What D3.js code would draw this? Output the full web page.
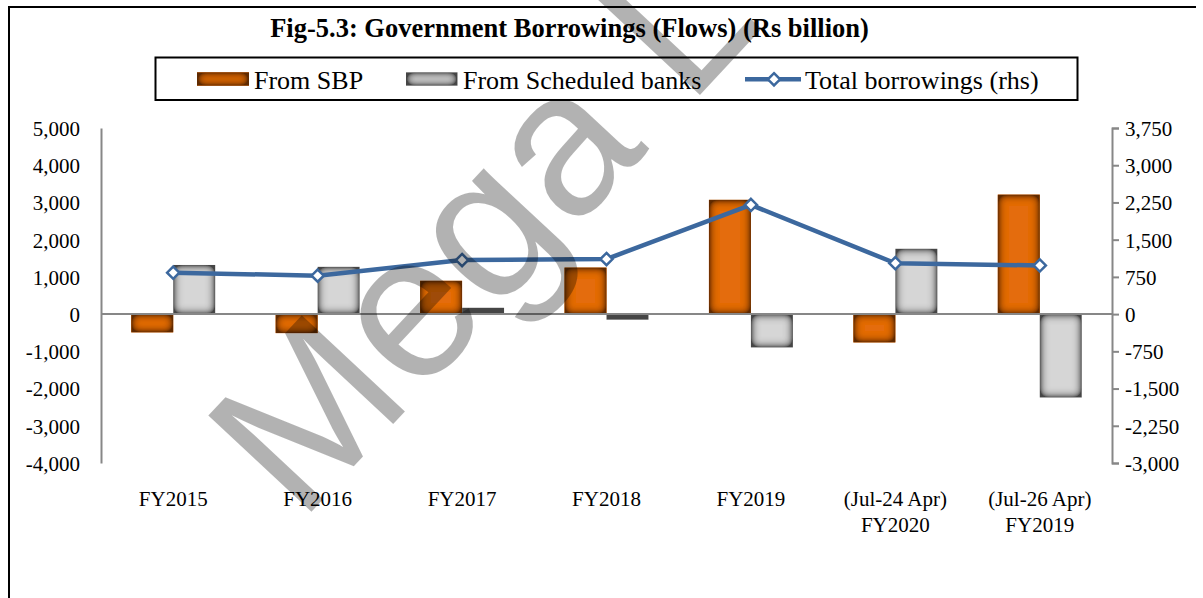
<!DOCTYPE html>
<html>
<head>
<meta charset="utf-8">
<script src="https://cdn.jsdelivr.net/npm/d3@7"></script>
<style>
  html, body { margin: 0; padding: 0; background: #fff; }
  svg { display: block; }
  text { font-family: "Liberation Serif", "Times New Roman", serif; fill: #000; }
</style>
</head>
<body>
<svg id="chart" width="1203" height="598"></svg>
<script>
// ---------- data ----------
const categories = ["FY2015", "FY2016", "FY2017", "FY2018", "FY2019", "(Jul-24 Apr)\nFY2020", "(Jul-26 Apr)\nFY2019"];
const fromSBP = [-490, -510, 895, 1250, 3070, -760, 3210];
const fromScheduled = [1320, 1270, 170, -150, -895, 1755, -2240];
const totalBorrowings = [835, 775, 1090, 1110, 2200, 1025, 980];
const leftTicks = [5000, 4000, 3000, 2000, 1000, 0, -1000, -2000, -3000, -4000];
const rightTicks = [3750, 3000, 2250, 1500, 750, 0, -750, -1500, -2250, -3000];
const seriesNames = ["From SBP", "From Scheduled banks", "Total borrowings (rhs)"];
const titleText = "Fig-5.3: Government Borrowings (Flows) (Rs billion)";
const watermarkText = "Mega Lecture";

// ---------- layout ----------
const svg = d3.select("#chart");
const plot = { left: 101, right: 1112, top: 128, bottom: 463 };
const fmt = d3.formatLocale({ decimal: ".", thousands: ",", grouping: [3], currency: ["", ""], minus: "-" }).format(",");

const x0 = d3.scaleBand().domain(categories).range([plot.left, plot.right]).paddingInner(0).paddingOuter(0);
const x1 = d3.scaleBand().domain(["sbp", "sched"]).range([0, x0.bandwidth()]).paddingInner(0).paddingOuter(0.72);
const yL = d3.scaleLinear().domain([-4000, 5000]).range([plot.bottom, plot.top]);
const yR = d3.scaleLinear().domain([-3000, 3750]).range([plot.bottom, plot.top]);

// ---------- defs: inner-shade filters ----------
const defs = svg.append("defs");
function shadeFilter(id, dark) {
  const f = defs.append("filter").attr("id", id)
    .attr("filterUnits", "userSpaceOnUse").attr("x", 0).attr("y", 0).attr("width", 1203).attr("height", 598);
  f.append("feFlood").attr("flood-color", dark).attr("result", "c");
  const inv = f.append("feComponentTransfer").attr("in", "SourceAlpha").attr("result", "inv");
  inv.append("feFuncA").attr("type", "table").attr("tableValues", "1 0");
  f.append("feGaussianBlur").attr("in", "inv").attr("stdDeviation", 5).attr("result", "blur");
  const amp = f.append("feComponentTransfer").attr("in", "blur").attr("result", "amp");
  amp.append("feFuncA").attr("type", "linear").attr("slope", 2).attr("intercept", 0);
  f.append("feComposite").attr("in", "c").attr("in2", "amp").attr("operator", "in").attr("result", "sh");
  f.append("feComposite").attr("in", "sh").attr("in2", "SourceAlpha").attr("operator", "in").attr("result", "inner");
  const m = f.append("feMerge");
  m.append("feMergeNode").attr("in", "SourceGraphic");
  m.append("feMergeNode").attr("in", "inner");
}
shadeFilter("shadeOrange", "#5e2a04");
shadeFilter("shadeGrey", "#454545");

const colors = { sbp: "#e46c0a", sched: "#d6d6d6", line: "#3c689e" };

// ---------- frame ----------
svg.append("line").attr("x1", 9).attr("x2", 9).attr("y1", 7).attr("y2", 598).attr("stroke", "#000").attr("stroke-width", 2);
svg.append("line").attr("x1", 8).attr("x2", 1196).attr("y1", 7).attr("y2", 7).attr("stroke", "#000").attr("stroke-width", 2);

// ---------- title ----------
svg.append("text").attr("x", 569.5).attr("y", 37).attr("text-anchor", "middle")
  .style("font-weight", "bold").style("font-size", "26.5px").text(titleText);

// ---------- bars ----------
const groups = svg.append("g").selectAll("g").data(categories).join("g")
  .attr("transform", d => `translate(${x0(d)},0)`);
groups.append("rect")
  .attr("x", x1("sbp")).attr("width", x1.bandwidth())
  .attr("y", (d, i) => Math.min(yL(fromSBP[i]), yL(0)))
  .attr("height", (d, i) => Math.abs(yL(fromSBP[i]) - yL(0)))
  .attr("fill", colors.sbp).attr("filter", "url(#shadeOrange)");
groups.append("rect")
  .attr("x", x1("sched")).attr("width", x1.bandwidth())
  .attr("y", (d, i) => Math.min(yL(fromScheduled[i]), yL(0)))
  .attr("height", (d, i) => Math.abs(yL(fromScheduled[i]) - yL(0)))
  .attr("fill", colors.sched).attr("filter", "url(#shadeGrey)");

// ---------- axes ----------
const axisColor = "#878787";
const gL = svg.append("g").attr("transform", `translate(${plot.left},0)`)
  .call(d3.axisLeft(yL).tickValues(leftTicks).tickFormat(fmt).tickSize(0).tickPadding(21));
gL.select(".domain").attr("stroke", axisColor).attr("stroke-width", 2);
gL.selectAll("text").style("font-size", "21px").style("font-family", '"Liberation Serif", serif').attr("dy", "0.35em");

const gR = svg.append("g").attr("transform", `translate(${plot.right},0)`)
  .call(d3.axisRight(yR).tickValues(rightTicks).tickFormat(fmt).tickSizeOuter(7).tickSizeInner(7).tickPadding(6));
gR.select(".domain").attr("stroke", axisColor).attr("stroke-width", 2);
gR.selectAll(".tick line").attr("stroke", axisColor).attr("stroke-width", 2);
gR.selectAll("text").style("font-size", "21px").style("font-family", '"Liberation Serif", serif').attr("dy", "0.35em");

// zero line
svg.append("line").attr("x1", plot.left).attr("x2", plot.right).attr("y1", yL(0)).attr("y2", yL(0))
  .attr("stroke", axisColor).attr("stroke-width", 2);

// category labels
const gX = svg.append("g");
categories.forEach((c, i) => {
  const t = gX.append("text").attr("x", x0(c) + x0.bandwidth() / 2).attr("y", 506)
    .attr("text-anchor", "middle").style("font-size", "21px");
  c.split("\n").forEach((ln, j) => {
    t.append("tspan").attr("x", x0(c) + x0.bandwidth() / 2).attr("dy", j === 0 ? 0 : 25.7).text(ln);
  });
});

// ---------- line ----------
const lineGen = d3.line().x((d, i) => x0(categories[i]) + x0.bandwidth() / 2).y(d => yR(d));
svg.append("path").datum(totalBorrowings).attr("d", lineGen)
  .attr("fill", "none").attr("stroke", colors.line).attr("stroke-width", 4.5).attr("stroke-linejoin", "round");
const diamond = d3.symbol().type(d3.symbolDiamond2).size(95);
svg.append("g").selectAll("path").data(totalBorrowings).join("path")
  .attr("d", diamond)
  .attr("transform", (d, i) => `translate(${x0(categories[i]) + x0.bandwidth() / 2},${yR(d)})`)
  .attr("fill", "#fff").attr("stroke", colors.line).attr("stroke-width", 2.5);

// ---------- legend ----------
const lg = svg.append("g");
lg.append("rect").attr("x", 155.5).attr("y", 57.5).attr("width", 922).attr("height", 42.5)
  .attr("fill", "#fff").attr("stroke", "#000").attr("stroke-width", 2);
lg.append("rect").attr("x", 197).attr("y", 72.3).attr("width", 52).attr("height", 13.4)
  .attr("fill", colors.sbp).attr("filter", "url(#shadeOrange)");
lg.append("text").attr("x", 254).attr("y", 89).style("font-size", "26px").text(seriesNames[0]);
lg.append("rect").attr("x", 406).attr("y", 72.3).attr("width", 51.5).attr("height", 13.4)
  .attr("fill", colors.sched).attr("filter", "url(#shadeGrey)");
lg.append("text").attr("x", 463).attr("y", 89).style("font-size", "26px").text(seriesNames[1]);
lg.append("line").attr("x1", 745).attr("x2", 801).attr("y1", 79.3).attr("y2", 79.3)
  .attr("stroke", colors.line).attr("stroke-width", 4.5);
lg.append("path").attr("d", diamond).attr("transform", "translate(774,79.3)")
  .attr("fill", "#fff").attr("stroke", colors.line).attr("stroke-width", 2.5);
lg.append("text").attr("x", 805).attr("y", 89).style("font-size", "26px").text(seriesNames[2]);

// ---------- watermark ----------
svg.append("text").attr("transform", "translate(300,524) rotate(-47)")
  .style("font-family", '"Liberation Sans", Arial, sans-serif').style("font-size", "205px")
  .style("fill", "#000").style("fill-opacity", 0.3).text(watermarkText);
</script>
</body>
</html>
